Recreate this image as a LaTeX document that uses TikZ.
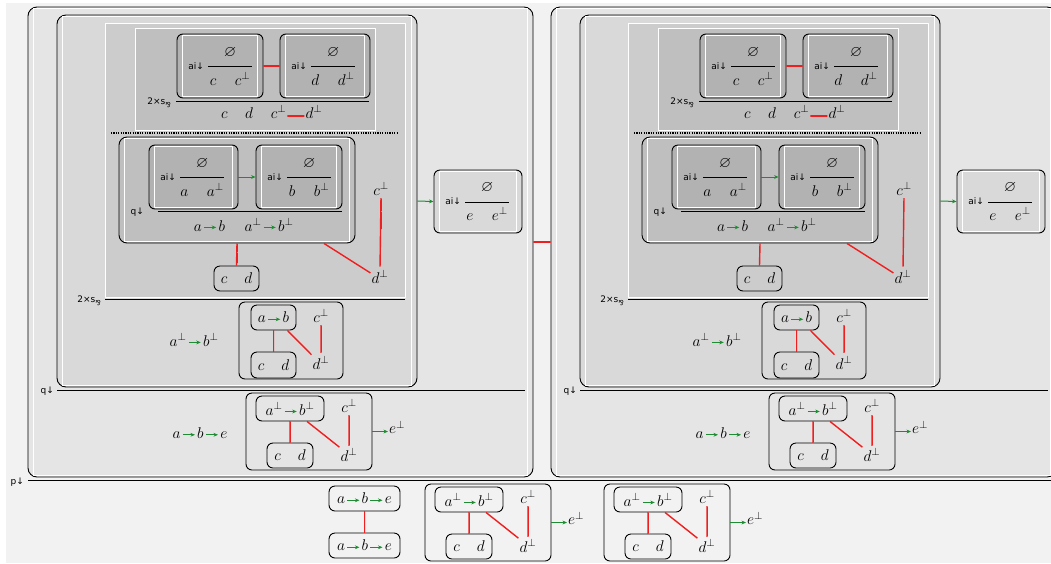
\documentclass[tikz,border=0pt]{standalone}
\usepackage{fix-cm}
\usepackage{amssymb}
\usepackage{graphicx}
\usepackage{fontspec}
\usetikzlibrary{arrows.meta,calc}
\newfontfamily\labfont{DejaVu Sans}
\definecolor{gr}{RGB}{30,140,50}
\definecolor{rd}{RGB}{240,30,30}
\definecolor{g0}{gray}{0.95}
\definecolor{g1}{gray}{0.90}
\definecolor{g2}{gray}{0.85}
\definecolor{g3}{gray}{0.80}
\definecolor{g4}{gray}{0.75}
\definecolor{g5}{gray}{0.70}
\newcommand\gto{\hspace{1.8pt}\tikz[baseline=-3.6pt]\draw[gr,line width=1pt,-{Stealth[length=4.5pt,width=3.8pt]}] (0pt,0pt) -- (12pt,0pt);\hspace{1.8pt}}
\newcommand\parrsym{\raisebox{-2.8pt}{\rotatebox[origin=c]{180}{\fontsize{7}{8}\selectfont\&}}}
\tikzset{
  rbox/.style={draw=black, line width=0.9pt, rounded corners=6pt, inner sep=0pt},
  gbox/.style={draw=black, line width=0.9pt, rounded corners=6pt, inner sep=0pt},
  prect/.style={draw=white, line width=0.9pt, inner sep=0pt},
  wline/.style={draw=white, line width=0.8pt},
  redfill/.style={left color=rd, right color=rd},
  gl/.style={draw=gr, line width=1pt, -{Stealth[length=4.5pt,width=3.8pt]}},
  ruleline/.style={draw=black, line width=0.9pt},
  fracline/.style={draw=black, line width=0.8pt},
  dotline/.style={draw=black, line width=1.2pt, dash pattern=on 1.2pt off 1.2pt},
  lbl/.style={font=\labfont\fontsize{9}{10}\selectfont, inner sep=0pt},
  atm/.style={inner sep=1pt},
}
% red connector between two named points (drawn as a thin shaded band)
\newcommand\rline[3][0pt]{%
  \coordinate (rla) at ($(#2)!#1!(#3)$);
  \coordinate (rlb) at ($(#3)!#1!(#2)$);
  \shade[redfill] ($(rla)!0.7pt!90:(rlb)$) -- ($(rla)!0.7pt!-90:(rlb)$) -- ($(rlb)!0.7pt!90:(rla)$) -- ($(rlb)!0.7pt!-90:(rla)$) -- cycle;
}
\def\mkbox[#1](#2)(#3,#4)(#5,#6){%
  \pgfmathsetmacro\mkw{#5-#3}\pgfmathsetmacro\mkh{#6-#4}%
  \pgfmathsetmacro\mkx{(#3+#5)/2}\pgfmathsetmacro\mky{(#4+#6)/2}%
  \node[#1, minimum width=\mkw pt, minimum height=\mkh pt] (#2) at (\mkx,\mky) {};}
\newcommand\wrect[1]{\draw[wline] ([shift={(6pt,-2.2pt)}]#1.north west) rectangle ([shift={(-6pt,2.2pt)}]#1.south east);}
\newcommand\aibox[5]{%
  \mkbox[rbox,fill=#2](#1)(#4)(#5)
  \wrect{#1}
  \node[lbl] (#1-ai) at ([xshift=19.5pt]#1.west) {ai↓};
  \draw[fracline] ([xshift=31.5pt,yshift=-0.5pt]#1.west) -- ([xshift=75.5pt,yshift=-0.5pt]#1.west);
  \node[atm] (#1-num) at ([xshift=53.5pt,yshift=13.5pt]#1.west) {$\varnothing$};
  \node[atm] (#1-den) at ([xshift=53.5pt,yshift=-12.5pt]#1.west) {$#3\hspace{18.5pt}#3^{\perp}$};
}
\newcommand\gboxA[1]{%
  \node[gbox, minimum width=126pt, minimum height=77pt] (#1) at (63,38.5) {};
  \node[gbox, minimum width=68pt, minimum height=25pt] (#1ab) at (44,15.5) {$a^{\perp}\gto b^{\perp}$};
  \node[gbox, minimum width=46pt, minimum height=25pt] (#1cd) at (44,62.5) {$c\hspace{17pt}d$};
  \node[atm, anchor=base] (#1cp) at (103,19) {$c^{\perp}$};
  \node[atm, anchor=base] (#1dp) at (103,68.5) {$d^{\perp}$};
  \rline{#1ab.south}{#1cd.north}
  \coordinate (#1x) at ([xshift=17pt]#1ab.south);
  \rline{#1x}{#1dp.north west}
  \rline[2pt]{#1cp.south}{#1dp.north}
  \node[atm, anchor=mid west] (#1ep) at (142,38.5) {$e^{\perp}$};
  \draw[gl] (#1.east) -- (#1ep.mid west);
}
\newcommand\half[1]{%
  \mkbox[rbox,fill=g1,rounded corners=9pt](#1L1)(28,7)(533,477)
  \wrect{#1L1}
  \mkbox[rbox,fill=g2,rounded corners=9pt](#1L2)(57,15)(417,387)
  \wrect{#1L2}
  \mkbox[prect,fill=g3](#1P)(105,23)(405,297)
  \mkbox[prect,fill=g4](#1T)(135,28)(375,130)
  \aibox{#1c}{g5}{c}{177,34}{263,98}
  \aibox{#1d}{g5}{d}{280,34}{370,98}
  \rline{#1c.east}{#1d.west}
  \draw[ruleline] (176,101) -- (369,101);
  \node[lbl, anchor=east] (#1Tl) at (171,102.5) {2×s\parrsym};
  \node[atm, anchor=base] (#1Tc) at (224.5,118) {$c$};
  \node[atm, anchor=base] (#1Td) at (249,118) {$d$};
  \node[atm, anchor=base] (#1Tcp) at (278.5,118) {$c^{\perp}$};
  \node[atm, anchor=base] (#1Tdp) at (314,118) {$d^{\perp}$};
  \rline{#1Tcp.mid east}{#1Tdp.mid west}
  \draw[dotline] (111,133) -- (397,133);
  \mkbox[rbox,fill=g4,rounded corners=8pt](#1Q)(119,137)(355,243)
  \wrect{#1Q}
  \aibox{#1a}{g5}{a}{149,145}{238,209}
  \aibox{#1b}{g5}{b}{256,145}{342,209}
  \draw[gl] (#1a.east) -- (#1b.west);
  \draw[ruleline] (158,211) -- (342,211);
  \node[lbl, anchor=east] (#1Ql) at (144,212.5) {q↓};
  \node[atm, anchor=base] (#1Qab) at (209.5,231) {$a\gto b$};
  \node[atm, anchor=base] (#1Qapbp) at (269,231) {$a^{\perp}\gto b^{\perp}$};
  \node[atm, anchor=base] (#1Gcp) at (381,195) {$c^{\perp}$};
  \node[atm, anchor=base] (#1Gdp) at (380,283) {$d^{\perp}$};
  \node[gbox, minimum width=45pt, minimum height=25pt] (#1Gcd) at (236.5,278.5) {$c\hspace{17pt}d$};
  \rline{#1Q.south}{#1Gcd.north}
  \coordinate (#1Qx) at ([xshift=87pt]#1Q.south);
  \rline{#1Qx}{#1Gdp.160}
  \rline[2pt]{#1Gcp.south}{#1Gdp.north}
  \aibox{#1e}{g2}{e}{434,170}{522,233}
  \draw[gl] (#1L2.east) -- (#1e.west);
  \draw[ruleline] (105,299) -- (405,299);
  \node[lbl, anchor=east] (#1L2l) at (101,300.5) {2×s\parrsym};
  \node[atm, anchor=base] (#1L2c) at (194,346) {$a^{\perp}\gto b^{\perp}$};
  \node[gbox, minimum width=104pt, minimum height=77pt] (#1G1) at (291,340.5) {};
  \node[gbox, minimum width=45pt, minimum height=25pt] (#1G1ab) at (273.5,317.5) {$a\gto b$};
  \node[gbox, minimum width=45pt, minimum height=26pt] (#1G1cd) at (273.5,365) {$c\hspace{17pt}d$};
  \node[atm, anchor=base] (#1G1cp) at (321,322) {$c^{\perp}$};
  \node[atm, anchor=base] (#1G1dp) at (321,369) {$d^{\perp}$};
  \rline{#1G1ab.south}{#1G1cd.north}
  \coordinate (#1G1x) at ([xshift=-9pt]#1G1ab.south east);
  \rline{#1G1x}{#1G1dp.north west}
  \rline[2pt]{#1G1cp.south}{#1G1dp.north}
  \draw[ruleline] (57,390) -- (525,390);
  \node[lbl, anchor=east] (#1L1l) at (54,391.5) {q↓};
  \node[atm] (#1L1c) at (200,433) {$a\gto b\gto e$};
  \begin{scope}[shift={(246,393)}]
    \gboxA{#1G2}
  \end{scope}
}
\begin{document}
\begin{tikzpicture}[x=1pt, y=-1pt, font=\fontsize{15.5}{18}\selectfont, line join=round]
\useasboundingbox (0,0) rectangle (1051,563);
\clip (0,0) rectangle (1051,563);
\fill[white] (0,0) rectangle (1051,563);
\fill[g0] (6,3) rectangle (1051,563);
\half{L}
\begin{scope}[shift={(523,0)}]
  \half{R}
\end{scope}
\rline{LL1.east}{RL1.west}
\draw[ruleline] (28,480) -- (1051,480);
\node[lbl, anchor=east] (pl) at (24,482) {p↓};
\node[gbox, minimum width=71pt, minimum height=25pt] (B1) at (364.5,498.5) {$a\gto b\gto e$};
\node[gbox, minimum width=71pt, minimum height=25pt] (B2) at (364.5,545.5) {$a\gto b\gto e$};
\rline{B1.south}{B2.north}
\begin{scope}[shift={(425,484)}]
  \gboxA{B3}
\end{scope}
\begin{scope}[shift={(604,484)}]
  \gboxA{B4}
\end{scope}
\end{tikzpicture}
\end{document}
